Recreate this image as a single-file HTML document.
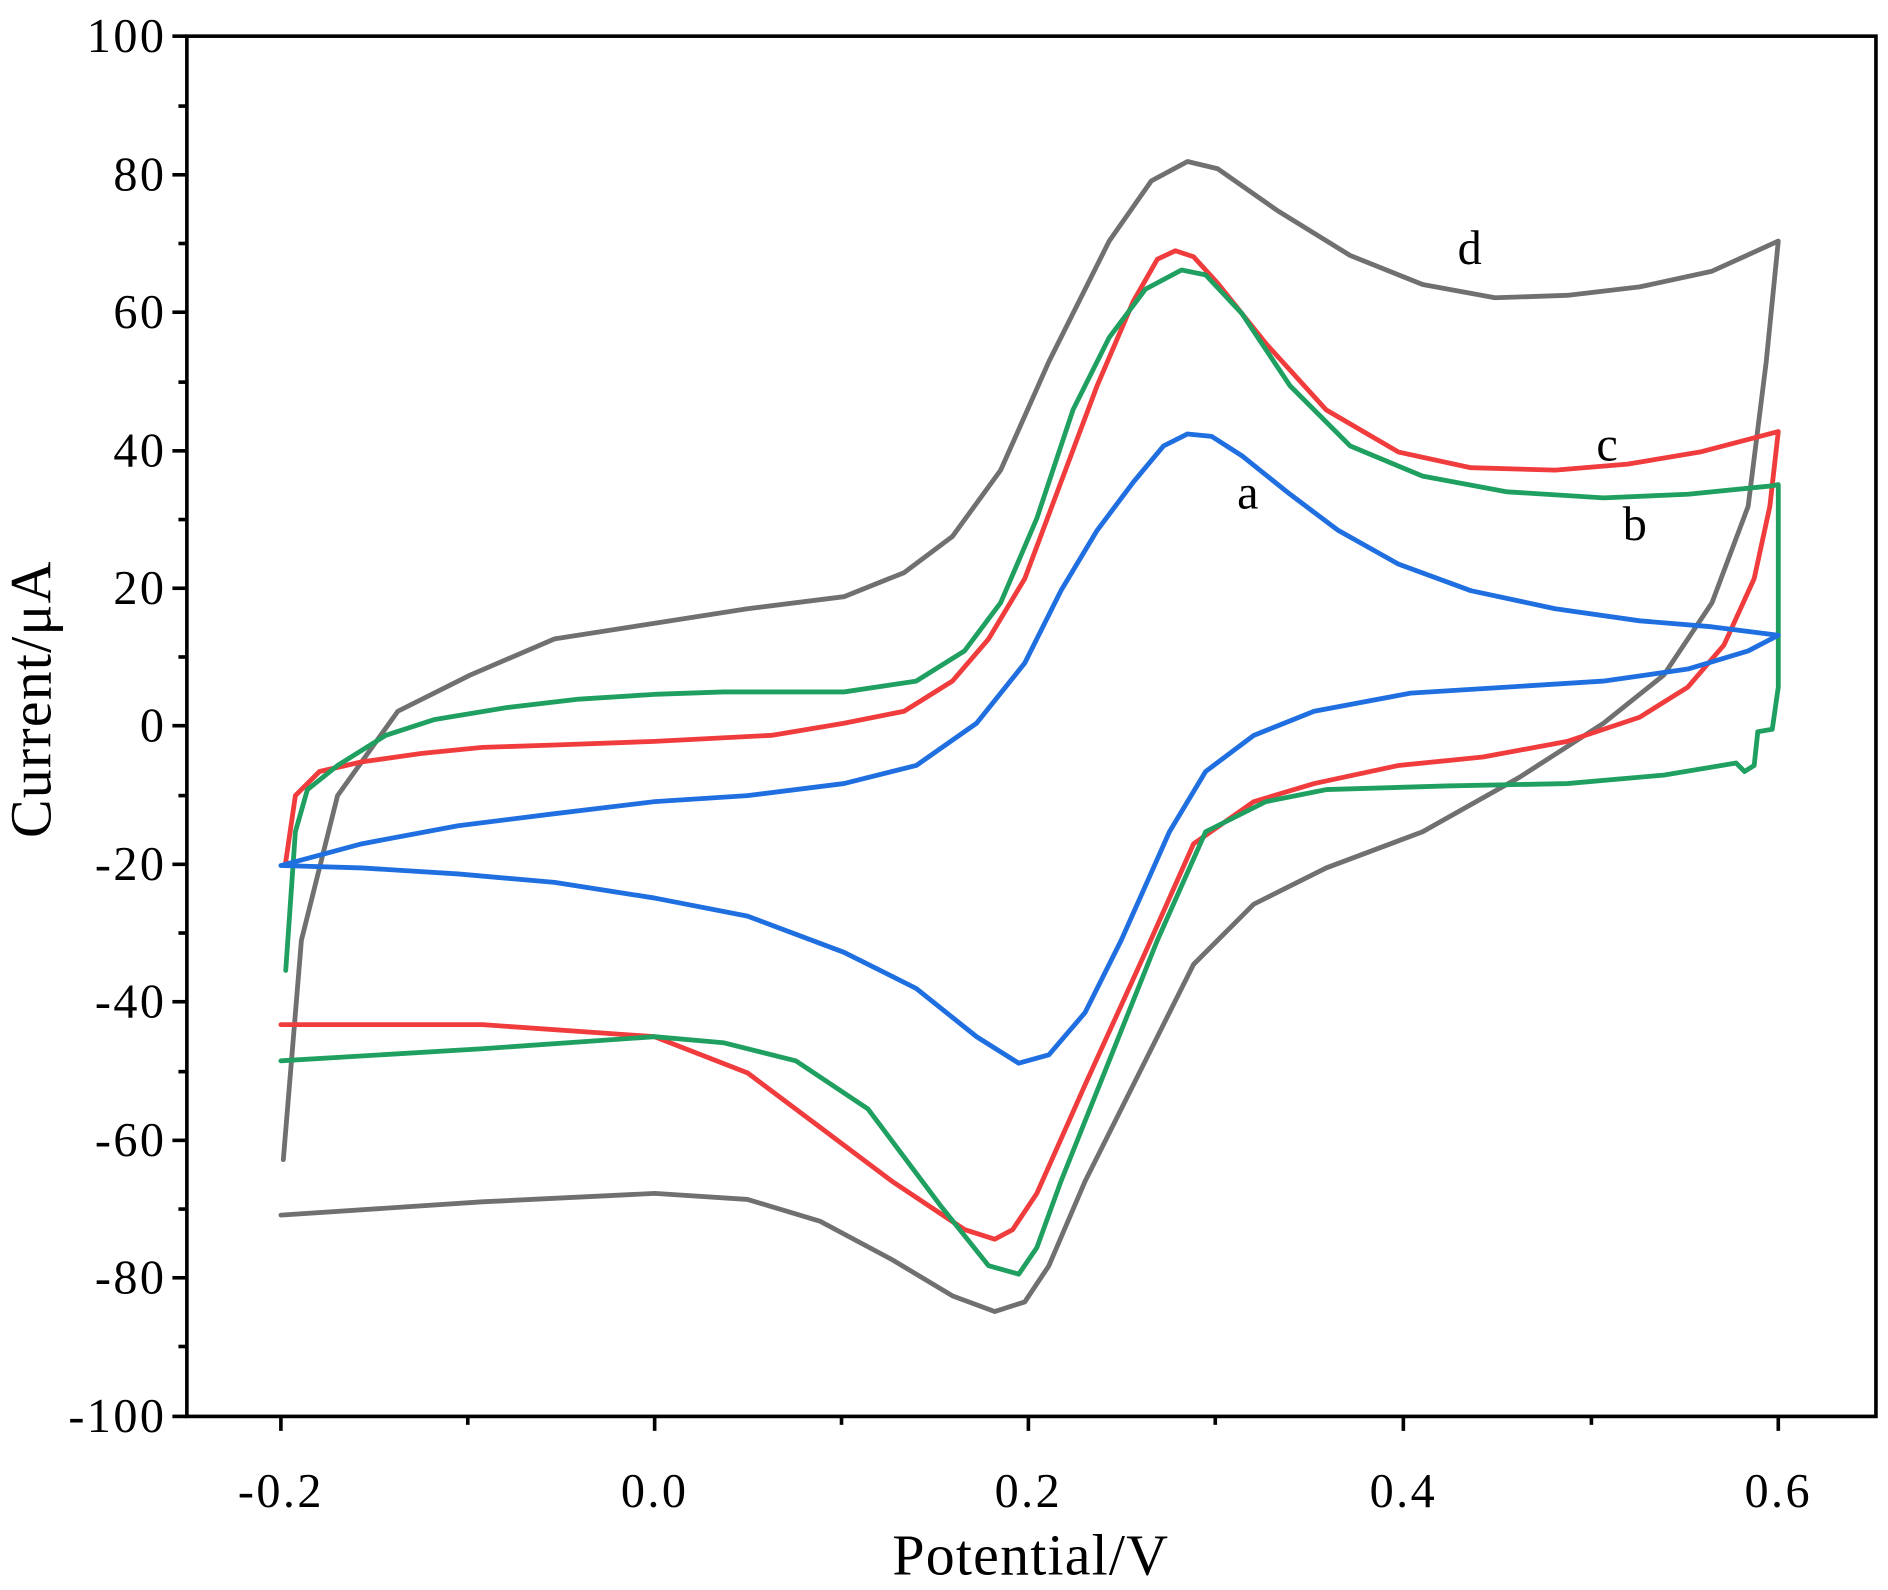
<!DOCTYPE html>
<html><head><meta charset="utf-8"><style>html,body{margin:0;padding:0;background:#fff}svg{display:block}</style></head>
<body>
<svg width="1888" height="1590" viewBox="0 0 1566 1319" preserveAspectRatio="none" xmlns="http://www.w3.org/2000/svg" font-family="Liberation Serif, serif">
<rect x="0" y="0" width="1566" height="1319" fill="#fff"/>
<g fill="none" stroke-width="4" stroke-linejoin="round" stroke-linecap="round">
<polyline stroke="#707070" points="235,962 250,780 280,660 330,590 390,560 460,530 543,517 620,505 700,495 750,475 790,445 830,390 870,300 920,200 955,150 985,134 1010,140 1060,175 1120,212 1180,236 1240,247 1300,245 1360,238 1420,225 1475,200 1465,300 1450,420 1420,500 1380,560 1330,600 1260,645 1180,690 1100,720 1040,750 990,800 950,880 900,980 870,1050 850,1080 825,1088 790,1075 740,1045 680,1013 620,995 543,990 400,997 233,1008"/>
<polyline stroke="#f03c3c" points="237,715 245,660 265,640 300,632 350,625 400,620 460,618 543,615 640,610 700,600 750,590 790,565 820,530 850,480 880,400 910,320 940,250 960,215 975,208 990,213 1010,235 1050,285 1100,340 1160,375 1220,388 1290,390 1350,385 1410,375 1475,358 1468,420 1455,480 1430,535 1400,570 1360,595 1300,615 1230,628 1160,635 1090,650 1040,665 990,700 950,790 900,900 860,990 840,1020 825,1028 800,1020 740,980 680,935 620,890 543,860 400,850 233,850"/>
<polyline stroke="#1fa060" points="237,805 245,690 255,655 280,635 320,610 360,597 420,587 480,580 543,576 600,574 700,574 760,565 800,540 830,500 860,430 890,340 920,280 950,240 980,224 1000,228 1030,260 1070,320 1120,370 1180,395 1250,408 1330,413 1400,410 1470,403 1475,402 1475,570 1470,605 1458,607 1455,635 1447,640 1440,633 1380,643 1300,650 1200,652 1100,655 1050,665 1000,690 960,780 920,880 880,980 860,1035 845,1057 820,1050 780,1000 720,920 660,880 600,865 543,860 400,870 233,880"/>
<polyline stroke="#1f6fe0" points="233,718 300,700 380,685 460,675 543,665 620,660 700,650 760,635 810,600 850,550 880,490 910,440 940,400 965,370 985,360 1005,362 1030,378 1070,410 1110,440 1160,468 1220,490 1290,505 1360,515 1420,520 1475,527 1450,540 1400,555 1330,565 1250,570 1170,575 1090,590 1040,610 1000,640 970,690 930,780 900,840 870,875 845,882 810,860 760,820 700,790 620,760 543,745 460,732 380,725 300,720 233,718"/>
</g>
<rect x="155" y="30" width="1401" height="1145" fill="none" stroke="#000" stroke-width="3"/>
<g stroke="#000" stroke-width="3">
<line x1="143" y1="30" x2="155" y2="30"/><line x1="143" y1="145" x2="155" y2="145"/><line x1="143" y1="259" x2="155" y2="259"/><line x1="143" y1="374" x2="155" y2="374"/><line x1="143" y1="488" x2="155" y2="488"/><line x1="143" y1="602" x2="155" y2="602"/><line x1="143" y1="717" x2="155" y2="717"/><line x1="143" y1="831" x2="155" y2="831"/><line x1="143" y1="946" x2="155" y2="946"/><line x1="143" y1="1060" x2="155" y2="1060"/><line x1="143" y1="1175" x2="155" y2="1175"/>
<line x1="148" y1="88" x2="155" y2="88"/><line x1="148" y1="202" x2="155" y2="202"/><line x1="148" y1="317" x2="155" y2="317"/><line x1="148" y1="431" x2="155" y2="431"/><line x1="148" y1="545" x2="155" y2="545"/><line x1="148" y1="660" x2="155" y2="660"/><line x1="148" y1="774" x2="155" y2="774"/><line x1="148" y1="889" x2="155" y2="889"/><line x1="148" y1="1003" x2="155" y2="1003"/><line x1="148" y1="1117" x2="155" y2="1117"/>
<line x1="233" y1="1175" x2="233" y2="1187"/><line x1="543" y1="1175" x2="543" y2="1187"/><line x1="853" y1="1175" x2="853" y2="1187"/><line x1="1164" y1="1175" x2="1164" y2="1187"/><line x1="1475" y1="1175" x2="1475" y2="1187"/>
<line x1="388" y1="1175" x2="388" y2="1182"/><line x1="698" y1="1175" x2="698" y2="1182"/><line x1="1008" y1="1175" x2="1008" y2="1182"/><line x1="1320" y1="1175" x2="1320" y2="1182"/>
</g>
<g font-size="40" text-anchor="end" fill="#000" letter-spacing="2">
<text x="138" y="43">100</text><text x="138" y="158">80</text><text x="138" y="272">60</text><text x="138" y="387">40</text><text x="138" y="501">20</text><text x="138" y="615">0</text><text x="138" y="730">-20</text><text x="138" y="844">-40</text><text x="138" y="959">-60</text><text x="138" y="1073">-80</text><text x="138" y="1188">-100</text>
</g>
<g font-size="40" text-anchor="middle" fill="#000">
<text x="233" y="1250" letter-spacing="2">-0.2</text><text x="543" y="1250" letter-spacing="2">0.0</text><text x="853" y="1250" letter-spacing="2">0.2</text><text x="1164" y="1250" letter-spacing="2">0.4</text><text x="1475" y="1250" letter-spacing="2">0.6</text>
<text x="855" y="1306" font-size="48" letter-spacing="1">Potential/V</text>
<text x="0" y="0" font-size="48" letter-spacing="1" transform="translate(42,580) rotate(-90)">Current/μA</text>
<text x="1035" y="422">a</text><text x="1356" y="448">b</text><text x="1333" y="382">c</text><text x="1219" y="219">d</text>
</g>
</svg>
</body></html>
